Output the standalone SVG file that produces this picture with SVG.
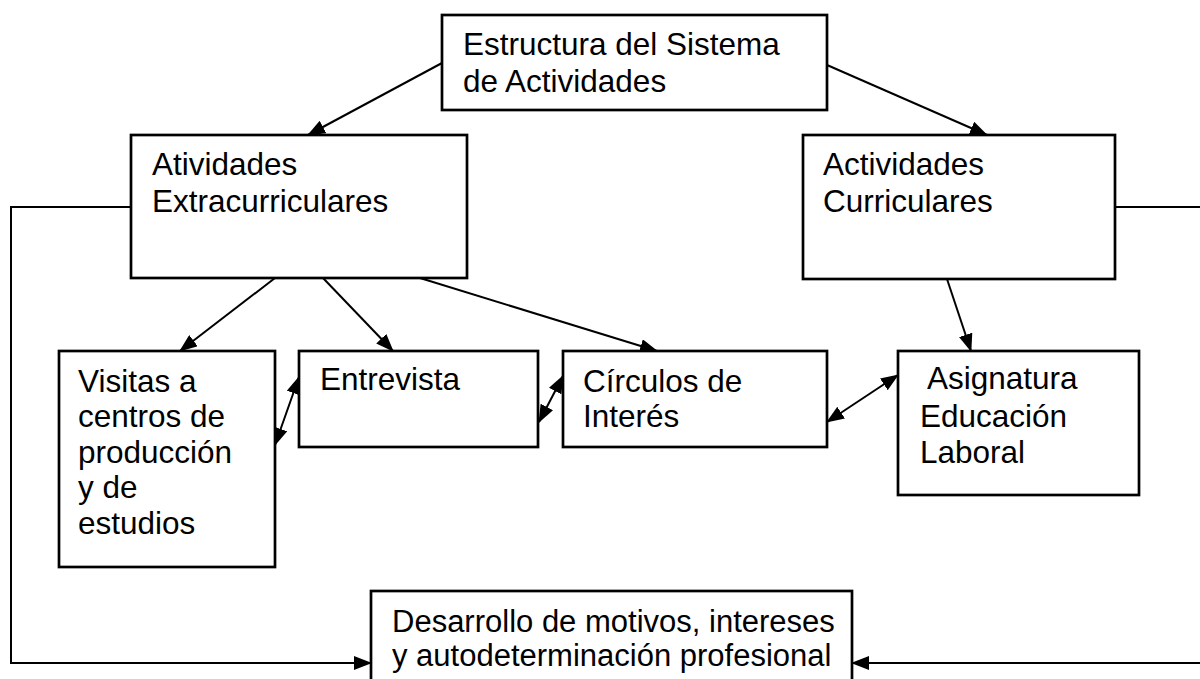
<svg xmlns="http://www.w3.org/2000/svg" width="1200" height="679" viewBox="0 0 1200 679">
<style>
.box{fill:#fff;stroke:#000;stroke-width:2.7}
.t{font-family:"Liberation Sans",Arial,sans-serif;font-size:31.5px;fill:#000}
.c{fill:none;stroke:#000;stroke-width:2}
</style>
<defs>
<marker id="ah" markerUnits="userSpaceOnUse" markerWidth="18" markerHeight="14" viewBox="0 0 18 14" refX="17" refY="7" orient="auto-start-reverse">
<path d="M0,0 L18,7 L0,14 z" fill="#000"/>
</marker>
</defs>
<rect width="1200" height="679" fill="#fff"/>
<g id="connectors">
<line class="c" x1="442" y1="63" x2="308" y2="135" marker-end="url(#ah)"/>
<line class="c" x1="827" y1="65" x2="987" y2="135" marker-end="url(#ah)"/>
<line class="c" x1="275" y1="278" x2="180" y2="351" marker-end="url(#ah)"/>
<line class="c" x1="323" y1="278" x2="393" y2="351" marker-end="url(#ah)"/>
<line class="c" x1="420" y1="278" x2="657" y2="351" marker-end="url(#ah)"/>
<line class="c" x1="947" y1="279" x2="971" y2="351" marker-end="url(#ah)"/>
<line class="c" x1="275" y1="445" x2="299" y2="377" marker-start="url(#ah)" marker-end="url(#ah)"/>
<line class="c" x1="539" y1="422" x2="563" y2="376" marker-start="url(#ah)" marker-end="url(#ah)"/>
<line class="c" x1="827" y1="422" x2="898" y2="375" marker-start="url(#ah)" marker-end="url(#ah)"/>
<path class="c" d="M131 207 H11 V663 H371" marker-end="url(#ah)"/>
<path class="c" d="M1115 207 H1210 V663 H852" marker-end="url(#ah)"/>
</g>
<g id="node-estructura">
<rect class="box" x="442" y="15" width="385" height="95"/>
<text class="t" x="463" y="55">Estructura del Sistema</text>
<text class="t" x="463" y="92">de Actividades</text>
</g>
<g id="node-extracurriculares">
<rect class="box" x="131" y="135" width="336" height="143"/>
<text class="t" x="152" y="175">Atividades</text>
<text class="t" x="152" y="212">Extracurriculares</text>
</g>
<g id="node-curriculares">
<rect class="box" x="803" y="135" width="312" height="144"/>
<text class="t" x="823" y="175">Actividades</text>
<text class="t" x="823" y="212">Curriculares</text>
</g>
<g id="node-visitas">
<rect class="box" x="59" y="351" width="216" height="216"/>
<text class="t" x="78" y="392">Visitas a</text>
<text class="t" x="78" y="427">centros de</text>
<text class="t" x="78" y="463">producción</text>
<text class="t" x="78" y="498">y de</text>
<text class="t" x="78" y="534">estudios</text>
</g>
<g id="node-entrevista">
<rect class="box" x="299" y="351" width="239" height="96"/>
<text class="t" x="320" y="390">Entrevista</text>
</g>
<g id="node-circulos">
<rect class="box" x="563" y="351" width="264" height="96"/>
<text class="t" x="583" y="392">Círculos de</text>
<text class="t" x="583" y="427">Interés</text>
</g>
<g id="node-asignatura">
<rect class="box" x="898" y="351" width="241" height="144"/>
<text class="t" x="920" y="389" xml:space="preserve"> Asignatura</text>
<text class="t" x="920" y="427">Educación</text>
<text class="t" x="920" y="463">Laboral</text>
</g>
<g id="node-desarrollo">
<rect class="box" x="371" y="591" width="481" height="110"/>
<text class="t" x="392" y="632" style="font-size:31px">Desarrollo de motivos, intereses</text>
<text class="t" x="392" y="666" style="font-size:31px">y autodeterminación profesional</text>
</g>
</svg>
